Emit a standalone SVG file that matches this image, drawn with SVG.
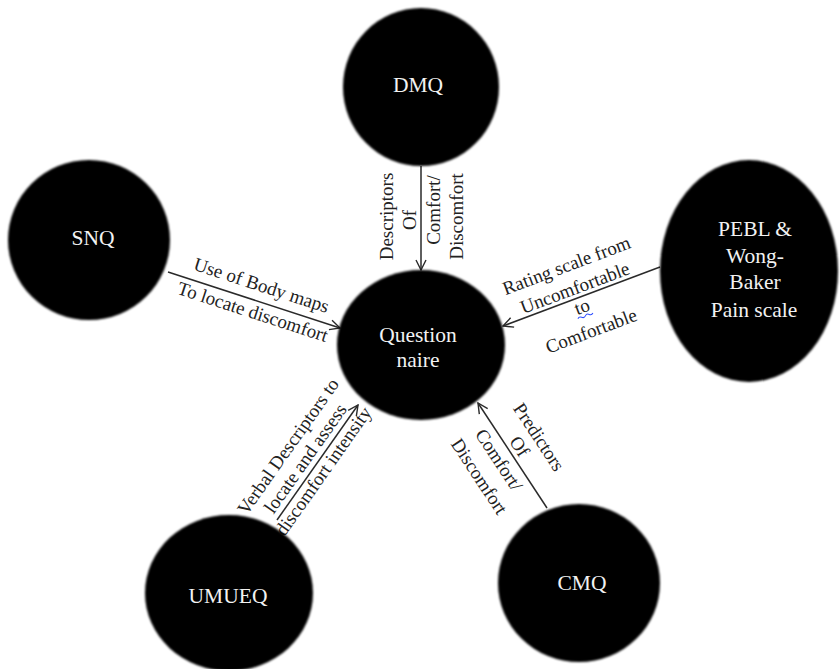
<svg xmlns="http://www.w3.org/2000/svg" width="840" height="669" viewBox="0 0 840 669">
  <style>
    .node { fill: #000; filter: url(#soft); }
    .ntext { font-family: 'Liberation Serif', 'Times New Roman', serif; font-size: 21.5px; fill: #f2f2f2; text-anchor: middle; }
    .edge { stroke: #2a2a2a; stroke-width: 1.5; fill: none; marker-end: url(#arrow); }
    .label { font-family: 'Liberation Serif', 'Times New Roman', serif; font-size: 19px; fill: #222; text-anchor: middle; }
  </style>
  <defs>
    <filter id="soft" x="-10%" y="-10%" width="120%" height="120%">
      <feGaussianBlur stdDeviation="1.2"/>
    </filter>
    <marker id="arrow" viewBox="0 0 12 12" refX="11" refY="6" markerWidth="12" markerHeight="12" markerUnits="userSpaceOnUse" orient="auto">
      <path d="M1,1 L11,6 L1,11" fill="none" stroke="#2a2a2a" stroke-width="1.4"/>
    </marker>
  </defs>
  <rect width="840" height="669" fill="#fff"/>

  <!-- connectors and their labels -->
  <g id="connectors">
    <line class="edge" x1="421" y1="166" x2="421" y2="270"/>
    <line class="edge" x1="168" y1="272" x2="340" y2="328"/>
    <line class="edge" x1="660" y1="267" x2="503" y2="326"/>
    <line class="edge" x1="277" y1="520" x2="358" y2="405"/>
    <line class="edge" x1="547" y1="508" x2="478" y2="403"/>

    <g transform="translate(421,270) rotate(-90)">
      <text class="label" x="53.5" y="-28.5">Descriptors</text>
      <text class="label" x="50" y="-5">Of</text>
      <text class="label" x="60" y="18.5">Comfort/</text>
      <text class="label" x="53.5" y="41.5">Discomfort</text>
    </g>
    <g transform="translate(168,272) rotate(18.03)">
      <text class="label" x="93" y="-10">Use of Body maps</text>
      <text class="label" x="93" y="18">To locate discomfort</text>
    </g>
    <g transform="translate(660,267) rotate(-20.6)">
      <text class="label" x="-87" y="-28">Rating scale from</text>
      <text class="label" x="-87" y="-4">Uncomfortable</text>
      <text class="label" x="-87" y="16">to</text>
      <path d="M-95,19.5 q2,-2 4,0 t4,0 t4,0 t4,0" fill="none" stroke="#2b4cff" stroke-width="1"/>
      <text class="label" x="-87" y="42">Comfortable</text>
    </g>
    <g transform="translate(358,405) rotate(-54.84)">
      <text class="label" x="-74" y="-27">Verbal Descriptors to</text>
      <text class="label" x="-74" y="-6">locate and assess</text>
      <text class="label" x="-74" y="16">discomfort intensity</text>
    </g>
    <g transform="translate(478,403) rotate(56.7)">
      <text class="label" x="62" y="-26">Predictors</text>
      <text class="label" x="59" y="-4.5">Of</text>
      <text class="label" x="59" y="20">Comfort/</text>
      <text class="label" x="62" y="45.5">Discomfort</text>
    </g>
  </g>

  <!-- nodes -->
  <g id="dmq">
    <ellipse class="node" cx="421" cy="87" rx="78" ry="79"/>
    <text class="ntext" x="418" y="92">DMQ</text>
  </g>
  <g id="snq">
    <ellipse class="node" cx="89" cy="240" rx="81" ry="80"/>
    <text class="ntext" x="93" y="245">SNQ</text>
  </g>
  <g id="pebl">
    <ellipse class="node" cx="749" cy="271" rx="89" ry="111"/>
    <text class="ntext" x="755" y="236">PEBL &amp;</text>
    <text class="ntext" x="755" y="263">Wong-</text>
    <text class="ntext" x="755" y="289">Baker</text>
    <text class="ntext" x="754" y="317">Pain scale</text>
  </g>
  <g id="questionnaire">
    <ellipse class="node" cx="421" cy="345" rx="84" ry="75"/>
    <text class="ntext" x="418" y="342">Question</text>
    <text class="ntext" x="418" y="367">naire</text>
  </g>
  <g id="umueq">
    <ellipse class="node" cx="229" cy="593" rx="84" ry="78"/>
    <text class="ntext" x="228" y="603">UMUEQ</text>
  </g>
  <g id="cmq">
    <ellipse class="node" cx="579" cy="583" rx="81" ry="79"/>
    <text class="ntext" x="582" y="590">CMQ</text>
  </g>
</svg>
